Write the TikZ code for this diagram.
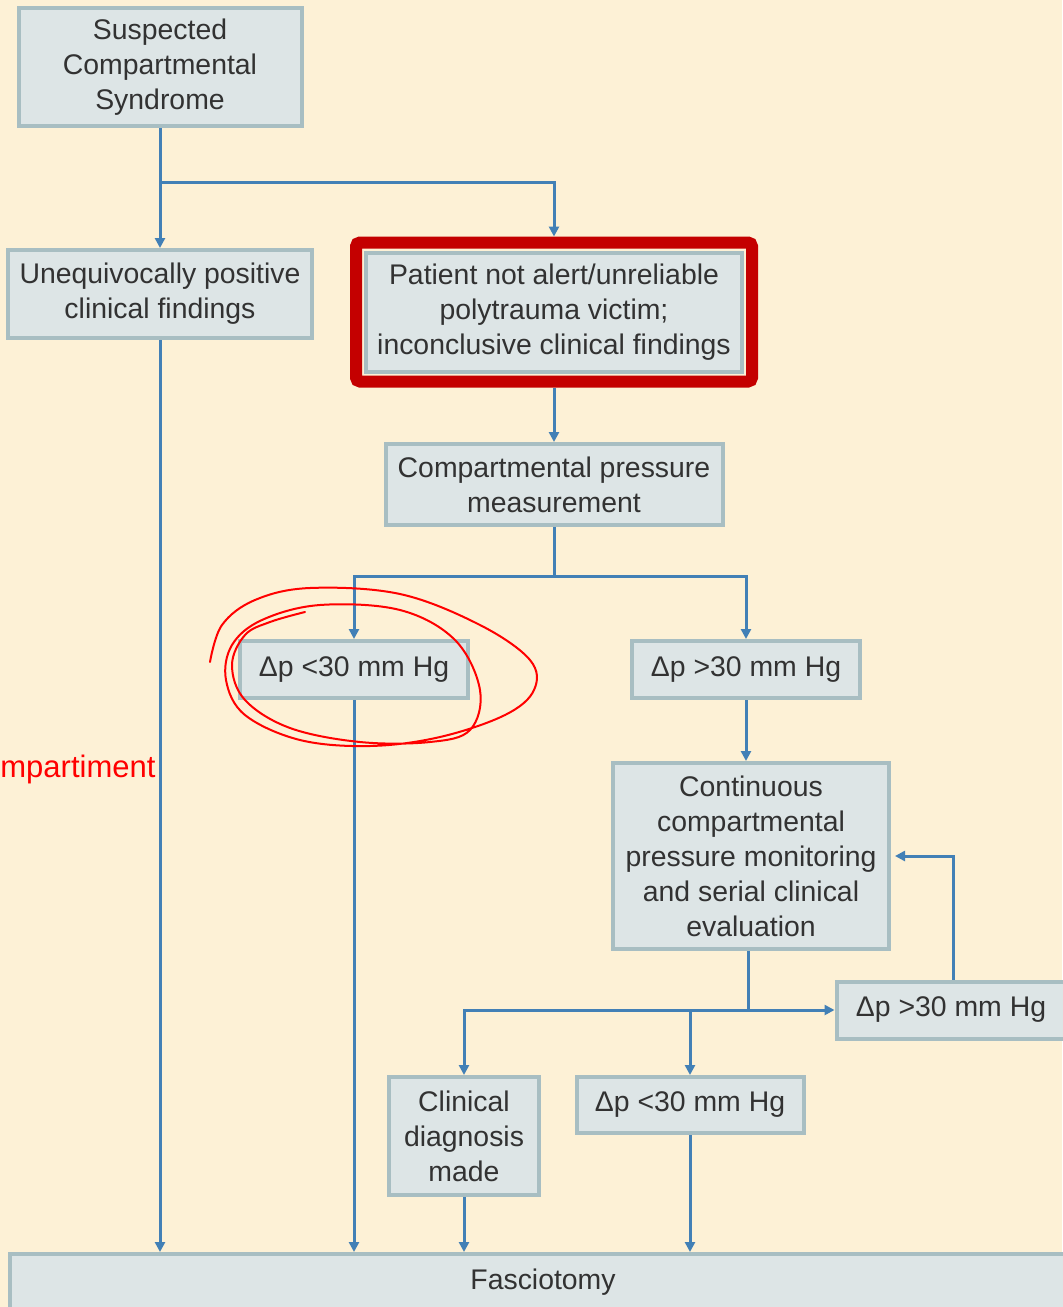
\documentclass[tikz,border=0pt]{standalone}
\usepackage{fontspec}
\setmainfont{Liberation Sans}
\usetikzlibrary{arrows.meta,fit}
\definecolor{cream}{RGB}{253,241,214}
\definecolor{boxfill}{RGB}{221,229,230}
\definecolor{boxedge}{RGB}{168,190,194}
\definecolor{flowblue}{RGB}{66,128,182}
\definecolor{boxtext}{RGB}{50,50,50}
\definecolor{framered}{RGB}{196,0,0}
\tikzset{
	stage/.style={draw=boxedge, fill=boxfill, line width=2pt, inner sep=2pt, align=center, text=boxtext, font=\fontsize{14.2}{17.5}\selectfont},
	flow/.style={draw=flowblue, line width=1.5pt, -{Triangle[width=5pt,length=5pt]}},
	link/.style={draw=flowblue, line width=1.5pt},
	scribble/.style={draw=red, line width=1pt, line cap=round},
}
\begin{document}
\begin{tikzpicture}[x=0.5pt,y=-0.5pt]
		\fill[cream] (0,0) rectangle (1062,1307);
		\useasboundingbox (0,0) rectangle (1062,1307);
		\node[stage, minimum width=141.5pt, minimum height=59pt] (susp) at (160,67) {Suspected\\Compartmental\\Syndrome};
		\node[stage, minimum width=152pt, minimum height=44pt] (uneq) at (160,294) {Unequivocally positive\\clinical findings};
		\node[stage, minimum width=188pt, minimum height=59.5pt] (pat) at (554,312) {Patient not alert/unreliable\\polytrauma victim;\\inconclusive clinical findings};
		\node[draw=framered, line width=6pt, rounded corners=2pt, inner sep=4pt, fit=(pat)] (patf) {};
		\node[stage, minimum width=168.5pt, minimum height=40.5pt] (meas) at (554,484.5) {Compartmental pressure\\measurement};
		\node[stage, minimum width=114pt, minimum height=28.5pt] (lowL) at (354,669.5) {Δp <30 mm Hg};
		\node[stage, minimum width=114pt, minimum height=28.5pt] (highR) at (746,669.5) {Δp >30 mm Hg};
		\node[stage, minimum width=138pt, minimum height=93pt] (cont) at (751,856) {Continuous\\compartmental\\pressure monitoring\\and serial clinical\\evaluation};
		\node[stage, minimum width=114.5pt, minimum height=28.5pt] (highLoop) at (951,1010) {Δp >30 mm Hg};
		\node[stage, minimum width=75pt, minimum height=59pt] (diag) at (464,1136) {Clinical\\diagnosis\\made};
		\node[stage, minimum width=113.5pt, minimum height=28pt] (lowB) at (690,1105) {Δp <30 mm Hg};
		\node[stage, minimum width=533pt, minimum height=28pt] (fasc) at (543,1282) {Fasciotomy};
		\coordinate (splitTop) at (160,182);
		\coordinate (splitMid) at (554,576);
		\coordinate (splitLow) at (748,1010);
		\draw[flow] (susp.south) -- (uneq.north);
		\draw[flow] (splitTop) -| (patf.north);
		\draw[flow] (uneq.south) -- (uneq.south |- fasc.north);
		\draw[flow] (patf.south) -- (patf.south |- meas.north);
		\draw[link] (meas.south) -- (splitMid);
		\draw[flow] (splitMid) -| (lowL.north);
		\draw[flow] (splitMid) -| (highR.north);
		\draw[flow] (lowL.south) -- (lowL.south |- fasc.north);
		\draw[flow] (highR.south) -- (highR.south |- cont.north);
		\draw[link] (splitLow |- cont.south) -- (splitLow);
		\draw[flow] (splitLow) -- (splitLow -| highLoop.west);
		\draw[flow] (splitLow) -| (diag.north);
		\draw[flow] (splitLow) -| (lowB.north);
		\draw[flow] ([xshift=1pt]highLoop.north) |- ([xshift=2pt]cont.east);
		\draw[flow] (diag.south) -- (diag.south |- fasc.north);
		\draw[flow] (lowB.south) -- (lowB.south |- fasc.north);
		\node[anchor=base west, inner sep=0pt, text=red, font=\fontsize{15.5}{18}\selectfont] (note) at (0,777) {mpartiment};
		\draw[scribble] plot[smooth, tension=0.6] coordinates {(210,662) (222,625) (255,600) (310,588) (400,594) (480,625) (530,660) (534,690) (505,715) (440,737) (370,746) (300,740) (245,715) (226,680) (232,645) (262,620) (320,605) (400,610) (455,640) (480,690) (470,730) (430,742) (360,742) (290,728) (245,700) (232,665) (245,635) (270,622) (305,612)};
\end{tikzpicture}
\end{document}
